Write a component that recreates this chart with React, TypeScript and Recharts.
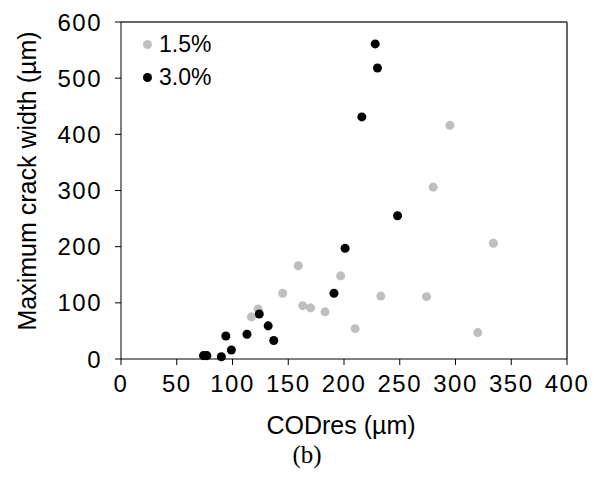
import { CartesianGrid, ReferenceLine, Scatter, ScatterChart, XAxis, YAxis, ZAxis, Label } from "recharts";

// CODres (µm) / max crack width (µm)
const fiber15X = [117, 123, 145, 159, 163, 170, 183, 197, 210, 233, 274, 280, 295, 320, 334];
const fiber15Y = [75, 89, 117, 166, 95, 91, 84, 148, 54, 112, 111, 306, 416, 47, 206];
const fiber30X = [74, 77, 90, 94, 99, 113, 124, 132, 137, 191, 201, 216, 228, 230, 248];
const fiber30Y = [6, 6, 4, 41, 16, 44, 80, 59, 33, 117, 197, 431, 561, 518, 255];

const xTicks = [0, 50, 100, 150, 200, 250, 300, 350, 400];
const yTicks = [0, 100, 200, 300, 400, 500, 600];

const SERIES = [
  { name: "1.5%", color: "#bfbfbf" },
  { name: "3.0%", color: "#000000" },
];

const FONT = "'Liberation Sans', Arial, sans-serif";
const TICK = { fill: "#000", fontSize: 24, fontFamily: FONT, letterSpacing: 1.5 };

const d15 = fiber15X.map((x, i) => ({ x, y: fiber15Y[i] }));
const d30 = fiber30X.map((x, i) => ({ x, y: fiber30Y[i] }));

export default function App() {
  return (
    <div style={{ position: "absolute", left: 0, top: 0, width: 594, height: 477, background: "#fff" }}>
      <ScatterChart width={594} height={477} margin={{ top: 22, right: 27, left: 0, bottom: 0 }}>
        <CartesianGrid stroke="none" />
        <XAxis
          type="number"
          dataKey="x"
          domain={[0, 400]}
          ticks={xTicks}
          height={118}
          tickSize={6}
          tickMargin={10}
          stroke="#000"
          tick={TICK}
          interval={0}
        >
          <Label
            content={() => (
              <text x={341} y={425} textAnchor="middle" dominantBaseline="central" fontSize={25} fontFamily={FONT} fill="#000">
                CODres (µm)
              </text>
            )}
          />
        </XAxis>
        <YAxis
          type="number"
          dataKey="y"
          domain={[0, 600]}
          ticks={yTicks}
          width={121}
          tickSize={6}
          tickMargin={13}
          stroke="#000"
          tick={TICK}
          interval={0}
        >
          <Label
            content={() => (
              <text
                x={27}
                y={181}
                transform="rotate(-90 27 181)"
                textAnchor="middle"
                dominantBaseline="central"
                fontSize={25}
                fontFamily={FONT}
                fill="#000"
              >
                Maximum  crack width (µm)
              </text>
            )}
          />
        </YAxis>
        <ZAxis range={[92, 92]} />
        <ReferenceLine y={600} stroke="#333" strokeWidth={1.5} />
        <ReferenceLine x={400} stroke="#333" strokeWidth={1.5} />
        <Scatter name="1.5%" data={d15} fill={SERIES[0].color} isAnimationActive={false} />
        <Scatter name="3.0%" data={d30} fill={SERIES[1].color} isAnimationActive={false} />
      </ScatterChart>
      <div style={{ position: "absolute", left: 143, top: 28, fontFamily: FONT, fontSize: 23, color: "#000", lineHeight: "33px" }}>
        {SERIES.map((s) => (
          <div key={s.name} style={{ display: "flex", alignItems: "center" }}>
            <span style={{ width: 9, height: 9, borderRadius: "50%", background: s.color, display: "inline-block", marginRight: 7 }} />
            {s.name}
          </div>
        ))}
      </div>
      <div
        style={{
          position: "absolute",
          left: 0,
          width: 614,
          top: 441,
          textAlign: "center",
          fontFamily: "'Liberation Serif', 'Times New Roman', serif",
          fontSize: 25,
          color: "#000",
        }}
      >
        (b)
      </div>
    </div>
  );
}
